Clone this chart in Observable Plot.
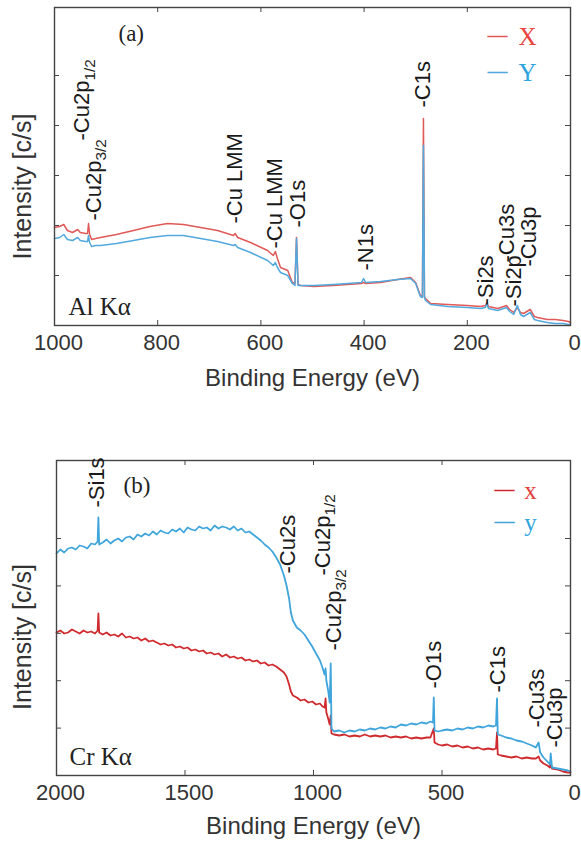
<!DOCTYPE html>
<html><head><meta charset="utf-8">
<script src="https://cdn.jsdelivr.net/npm/d3@7"></script>
<script src="https://cdn.jsdelivr.net/npm/@observablehq/plot@0.6"></script>
<style>body{margin:0;background:#fff} #chart svg{display:block}</style>
</head><body><div id="chart"></div>
<script>
// ---------- Panel (a): Al Kα ----------
const energyA = [1000,990,982,975,965,955,950,940,936,934,932,928,920,911,880,847,815,781,750,717,684,653,650,645,620,587,576,572,568,562,548,539,534,531,528,523,498,460,432,405,401,397,368,335,310,300,291,287,285,283,281,271,238,200,174,165,162,159,141,124,118,110,103,97,91,78,70,64,45,30,14,4,0];
const seriesXA = [98,99,101,95,93,96,93,92,92,102,91,86,87,88,91,95,99,102,101,98,95,90,92,88,83,75,70,74,67,58,55,43,42,88,41,40,39,40,41,42,43,42,43,46,48,43,30,29,207,29,27,22,21,20,19,20,23,19,17,20,16,13,18,13,12,16,9,8,6,6,5,4,3];
const seriesYA = [87,88,91,86,85,88,85,84,84,90,83,79,80,80,82,85,88,90,90,87,84,80,81,78,73,65,60,63,58,53,50,42,40,87,40,40,40,41,42,43,47,43,44,46,47,42,29,28,180,28,25,21,19,18,17,18,22,17,15,18,14,11,20,11,9,13,6,5,3,2,2,1,1];
const peakNamesA = ["-Cu2p_1/2","-Cu2p_3/2","-Cu LMM","-Cu LMM","-O1s","-N1s","-C1s","-Si2s","-Cu3s","-Si2p","-Cu3p"];
const peakEnergyA = [946,924,651,572,529,397,285,163,124,110,81];
const peakLevelA = [185,105,102,77,98,55,218,20,63,19,59];
const xTicksA = [1000,800,600,400,200,0];
const yTicksA = [50,100,150,200,250];
const legendA = ["X","Y"];

// ---------- Panel (b): Cr Kα ----------
const energyB = [2000,1985,1970,1955,1940,1925,1910,1895,1880,1865,1850,1840,1837,1834,1820,1805,1790,1775,1760,1745,1730,1715,1700,1685,1670,1655,1640,1625,1610,1595,1580,1565,1550,1535,1520,1505,1490,1475,1460,1445,1430,1415,1400,1385,1370,1355,1340,1325,1310,1295,1280,1265,1250,1235,1220,1205,1190,1175,1160,1145,1130,1115,1105,1095,1088,1080,1065,1050,1035,1020,1005,990,975,965,957,953,950,943,937,933,930,920,900,880,860,840,820,800,780,760,740,720,700,680,660,640,620,600,580,560,545,535,532,529,515,500,480,460,440,420,400,380,360,340,320,300,290,286,283,270,250,230,210,190,170,150,135,124,118,105,90,80,77,72,50,30,10,0];
const seriesYB = [222,226,223,227,228,226,230,229,227,232,231,234,258,231,233,236,232,235,237,234,238,239,236,241,239,242,240,244,241,245,243,242,246,244,247,243,248,246,245,249,247,248,245,250,247,249,248,246,249,245,247,243,244,241,238,235,231,228,224,218,211,200,190,177,163,155,148,145,141,135,129,122,115,108,101,107,95,85,73,112,47,44,45,43,45,44,46,45,47,46,48,47,49,48,51,50,52,51,53,52,54,53,78,45,44,45,46,45,47,46,48,47,49,48,50,49,50,77,41,40,38,37,35,34,32,30,28,33,23,18,14,11,22,8,7,6,5,4];
const seriesXB = [143,145,142,143,146,144,142,145,143,144,142,145,162,143,141,143,140,141,139,142,138,139,137,138,135,137,134,135,133,131,132,130,131,128,129,127,128,125,126,124,125,122,123,121,122,119,121,118,119,117,118,115,116,114,115,112,113,110,111,109,106,103,99,91,84,80,78,75,76,73,74,71,72,69,68,77,63,57,51,60,42,41,40,41,39,40,39,41,39,40,39,40,38,39,38,39,37,38,37,38,38,45,47,33,31,30,31,29,30,28,29,27,28,26,27,26,27,43,21,20,19,18,19,17,18,17,17,19,15,12,10,8,12,7,6,4,3,3];
const peakNamesB = ["-Si1s","-Cu2s","-Cu2p_1/2","-Cu2p_3/2","-O1s","-C1s","-Cu3s","-Cu3p"];
const peakEnergyB = [1841,1099,963,920,532,283,132,62];
const peakLevelB = [268,202,200,125,87,83,48,28];
const xTicksB = [2000,1500,1000,500,0];
const yTicksB = [47.4,94.8,142.2,189.6,237];
const legendB = ["x","y"];

const sans = "'Liberation Sans', Arial, Helvetica, sans-serif";
const serif = "'Liberation Serif', 'Times New Roman', serif";
const axisLabel = "Binding Energy (eV)";
const yLabel = "Intensity [c/s]";

function panel(c) {
  const W = 581;
  const ph = c.height - c.mt - c.mb;
  const pw = W - c.ml - c.mr;
  const rows = c.energy.map((e, i) => ({e, a: c.sx[i], b: c.sy[i]}));
  const labs = c.names.map((t, i) => ({t, e: c.labE[i], v: c.labV[i]}));
  const frameCol = "#444";
  const anno = {textAnchor: "middle", lineAnchor: "middle"};
  const svg = Plot.plot({
    width: W, height: c.height,
    marginTop: c.mt, marginBottom: c.mb, marginLeft: c.ml, marginRight: c.mr,
    x: {domain: c.xDomain, axis: null, label: null},
    y: {domain: c.yDomain, axis: null, label: null},
    style: {fontFamily: sans, background: "white", overflow: "visible"},
    marks: [
      Plot.line(rows, {x: "e", y: "a", stroke: c.colX, strokeWidth: c.sw}),
      Plot.line(rows, {x: "e", y: "b", stroke: c.colY, strokeWidth: c.sw}),
      Plot.frame({stroke: frameCol, strokeWidth: 1.4}),
      Plot.tickX(c.xTicks, {x: d => d, insetTop: ph - 5, stroke: frameCol}),
      Plot.tickX(c.xTicks, {x: d => d, insetBottom: ph - 5, stroke: frameCol}),
      Plot.tickY(c.yTicks, {y: d => d, insetRight: pw - 5, stroke: frameCol}),
      Plot.tickY(c.yTicks, {y: d => d, insetLeft: pw - 5, stroke: frameCol}),
      Plot.axisX(c.xTicks, {label: null, tickSize: 0, tickPadding: 9, fontSize: 22, dx: c.tickDx, fill: "#333", tickFormat: d => String(d)}),
      Plot.text([axisLabel], {...anno, frameAnchor: "bottom", dy: c.xlabDy, fontSize: 24, fill: "#333"}),
      Plot.text([yLabel], {...anno, frameAnchor: "left", dx: c.ylabDx, dy: c.ylabDy, rotate: -90, fontSize: 25, fill: "#333"}),
      Plot.text(labs, {x: "e", y: "v", text: "t", rotate: -90, textAnchor: "start", lineAnchor: "middle", fontSize: 22, fill: "#1a1a1a"}),
      Plot.text([c.tag], {frameAnchor: "top-left", dx: c.tagDx, dy: c.tagDy, textAnchor: "start", lineAnchor: "middle", fontFamily: serif, fontSize: 23, fill: "#222"}),
      Plot.text([c.src], {frameAnchor: "bottom-left", dx: c.srcDx, dy: c.srcDy, textAnchor: "start", lineAnchor: "middle", fontFamily: serif, fontSize: 25, fill: "#222"}),
      Plot.text(["—"], {...anno, frameAnchor: "top-right", dx: c.legDashDx, dy: c.legDy[0] - 1, fill: c.colX, fontFamily: serif, fontWeight: "bold", fontSize: 20}),
      Plot.text(["—"], {...anno, frameAnchor: "top-right", dx: c.legDashDx, dy: c.legDy[1] - 1, fill: c.colY, fontFamily: serif, fontWeight: "bold", fontSize: 20}),
      Plot.text([c.legend[0]], {...anno, frameAnchor: "top-right", dx: c.legTxtDx, dy: c.legDy[0], fill: c.legColX, fontFamily: serif, fontSize: 25}),
      Plot.text([c.legend[1]], {...anno, frameAnchor: "top-right", dx: c.legTxtDx, dy: c.legDy[1], fill: c.legColY, fontFamily: serif, fontSize: 25})
    ]
  });
  // subscripts for labels written as "base_sub"
  d3.select(svg).selectAll("text").each(function () {
    const t = this.textContent;
    if (t.includes("_")) {
      const [base, sub] = t.split("_");
      const s = d3.select(this);
      s.text(null);
      s.append("tspan").text(base);
      s.append("tspan").attr("font-size", "70%").attr("dy", "0.35em").text(sub);
    }
  });
  return svg;
}

const chart = document.getElementById("chart");
chart.appendChild(panel({
  height: 400, mt: 7, mb: 75, ml: 54, mr: 11, sw: 1.5,
  xDomain: [1000, 0], yDomain: [0, 318],
  energy: energyA, sx: seriesXA, sy: seriesYA,
  colX: "#e05a58", colY: "#52a9de", legColX: "#e8443c", legColY: "#2ea3dd",
  names: peakNamesA, labE: peakEnergyA, labV: peakLevelA,
  xTicks: xTicksA, yTicks: yTicksA, tickDx: 4,
  xlabDy: 53, ylabDx: -32, ylabDy: 20,
  tag: "(a)", tagDx: 64, tagDy: 26,
  src: "Al Kα", srcDx: 14, srcDy: -19,
  legend: legendA, legDashDx: -73, legTxtDx: -43, legDy: [29, 65]
}));
chart.appendChild(panel({
  height: 444, mt: 60, mb: 69, ml: 56, mr: 11, sw: 1.8,
  xDomain: [2000, 0], yDomain: [0, 315],
  energy: energyB, sx: seriesXB, sy: seriesYB,
  colX: "#cf2a2e", colY: "#3fa5db", legColX: "#e0403a", legColY: "#2ea3dd",
  names: peakNamesB, labE: peakEnergyB, labV: peakLevelB,
  xTicks: xTicksB, yTicks: yTicksB, tickDx: 4,
  xlabDy: 51, ylabDx: -34, ylabDy: 19,
  tag: "(b)", tagDx: 67, tagDy: 25,
  src: "Cr Kα", srcDx: 13, srcDy: -19,
  legend: legendB, legDashDx: -66, legTxtDx: -40, legDy: [30, 62]
}));
</script></body></html>
